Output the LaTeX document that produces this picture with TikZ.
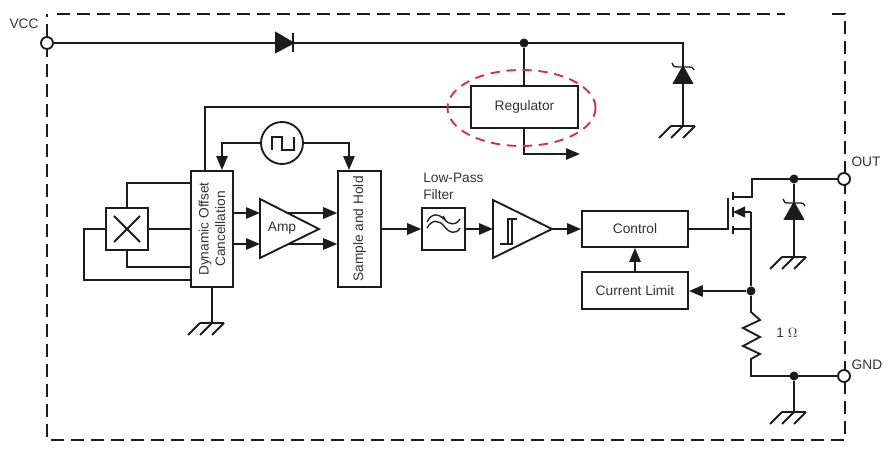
\documentclass[tikz,border=0pt]{standalone}
\usepackage{fontspec}
\setmainfont{Liberation Sans}
\usetikzlibrary{calc, shapes.geometric, arrows.meta, positioning}
\definecolor{wireblack}{HTML}{1C1C1C}
\definecolor{labelgray}{HTML}{333333}
\definecolor{markred}{HTML}{DC2B3C}
\tikzset{
    wire/.style={line width=1.4pt, draw=wireblack, line join=miter},
    sig/.style={wire, -{Triangle[length=10.5pt, width=8.5pt]}},
    blockbox/.style={wire, rectangle, fill=white, inner sep=0pt, text=labelgray},
    txt/.style={text=labelgray, inner sep=0pt},
    junction/.style={circle, fill=wireblack, inner sep=0pt, minimum size=6.8pt},
    terminal/.style={wire, circle, fill=white, inner sep=0pt, minimum size=9pt},
    border/.style={line width=1.4pt, draw=wireblack, dash pattern=on 9.75pt off 5.25pt}
}

\begin{document}
\begin{tikzpicture}[x=0.75pt, y=-0.75pt, every node/.append style={font=\fontsize{10.3}{12.5}\selectfont}]
    \useasboundingbox (0,0) rectangle (890,449);

    % Package outline
    \draw[border] (57,14) -- (785,14);
    \draw[border] (832,14) -- (845,14) -- (845,440) -- (47,440) -- (47,14);

    % Terminals
    \node[terminal] (vcc) at (47,43) {};
    \node[terminal] (out) at (844,179) {};
    \node[terminal] (gnd) at (844,376) {};
    \node[txt] at (24,24) {VCC};
    \node[txt] at (866,162) {OUT};
    \node[txt] at (867,365) {GND};

    % Blocks
    \node[blockbox, minimum width=80pt, minimum height=32pt] (regulator) at (524.5,107) {Regulator};
    \node[blockbox, minimum width=32pt, minimum height=87pt] (doc) at (212,229) {};
    \node[txt, rotate=90, align=center] at (doc) {Dynamic Offset\\Cancellation};
    \node[blockbox, minimum width=32pt, minimum height=87pt] (sample) at (359.5,229) {};
    \node[txt, rotate=90] at (sample) {Sample and Hold};
    \node[blockbox, minimum width=32pt, minimum height=32pt] (hall) at (127,229) {};
    \node[blockbox, minimum width=32pt, minimum height=32pt] (filter) at (443.5,229) {};
    \node[blockbox, minimum width=79.5pt, minimum height=27pt] (control) at (635,229) {Control};
    \node[blockbox, minimum width=79.5pt, minimum height=27.5pt] (limit) at (635,290.5) {Current Limit};
    \node[wire, circle, fill=white, inner sep=0pt, minimum size=31.5pt] (clock) at (282,143) {};
    \node[txt, align=left, anchor=north west] at (423,173) {Low-Pass\\Filter};
    \node[txt] at (787,333) {1 $\Omega$};

    % Amplifiers
    \draw[wire, fill=white] (260,199) -- (319,229) -- (260,258) -- cycle;
    \node[txt] at (282,228) {Amp};
    \draw[wire, fill=white] (493,200) -- (552,229) -- (493,258) -- cycle;
    \coordinate (amptip) at (319,229);
    \coordinate (schmitttip) at (552,229);

    % Symbols inside blocks
    \draw[wire] ($(hall)+(-13,-13)$) -- ($(hall)+(13,13)$);
    \draw[wire] ($(hall)+(-13,13)$) -- ($(hall)+(13,-13)$);
    \draw[wire, line width=1pt] (272,150) -- (272,137) -- (282,137) -- (282,150) -- (294,150) -- (294,137);
    \draw[wire, line width=1pt] (427,222) .. controls (432,212) and (439,214) .. (444,219) .. controls (449,225) and (456,226) .. (460,219);
    \draw[wire, line width=1pt] (427,228) .. controls (432,219) and (439,220) .. (444,226) .. controls (449,233) and (456,235) .. (460,228);
    \draw[wire, line width=1pt] (443,216) -- (446,221);
    \draw[wire, line width=1pt] (500,244) -- (512,244) -- (512,219) -- (517,219);
    \draw[wire, line width=1pt] (508,244) -- (508,219) -- (512,219);

    % Ground symbols
    \foreach \name/\x/\y in {gdoc/212/323, gvcc/683/126, gout/794/257, gref/794/412} {
        \coordinate (\name) at (\x,\y);
        \draw[wire] (\x-12,\y) -- (\x+12,\y);
        \foreach \d in {-12,0,12} {
            \draw[wire] (\x+\d,\y) -- (\x+\d-12,\y+12);
        }
    }

    % Supply rail
    \node[junction] (railnode) at (524,43) {};
    \coordinate (railend) at (683,43);
    \draw[wire] (vcc) -- (railend) -- (gvcc);
    \draw[wire] (railnode) -- (regulator.north -| railnode);
    \draw[wire, fill=wireblack] (276,33) -- (293,43) -- (276,52) -- cycle;
    \draw[wire] (293,33) -- (293,52);

    % Zener clamps
    \foreach \x/\y in {683/67, 794/203} {
        \draw[wire, fill=wireblack] (\x,\y) -- (\x+9,\y+16) -- (\x-9,\y+16) -- cycle;
        \draw[wire, line width=1pt] (\x-11,\y-4) .. controls (\x-9,\y) .. (\x-6,\y) -- (\x+6,\y) .. controls (\x+9,\y) .. (\x+11,\y+3);
    }

    % Regulator connections
    \draw[wire] (regulator.west) -- (205,107) -- (doc.north -| 205,0);
    \coordinate (regout) at (580,154);
    \draw[sig] (regulator.south -| 524,0) -- (524,154) -- (regout);
    \node[ellipse, draw=markred, line width=1.4pt, dash pattern=on 7pt off 5pt, inner sep=0pt, minimum width=111pt, minimum height=57pt] (mark) at (521.5,108) {};

    % Clock
    \draw[sig] (clock.west) -- (222,143) -- (doc.north -| 222,0);
    \draw[sig] (clock.east) -- (349,143) -- (sample.north -| 349,0);

    % Hall plate to chopper
    \draw[wire] (hall.north) -- (127,183) -- (doc.west |- 0,183);
    \draw[wire] (hall.east) -- (doc.west);
    \draw[wire] (hall.south) -- (127,267) -- (doc.west |- 0,267);
    \draw[wire] (hall.west) -- (84,229) -- (84,280) -- (doc.west |- 0,280);
    \draw[wire] (doc.south -| gdoc) -- (gdoc);

    % Signal path
    \draw[sig] (doc.east |- 0,213) -- (260,213);
    \draw[sig] (doc.east |- 0,244) -- (260,244);
    \draw[sig] (288,213) -- (sample.west |- 0,213);
    \draw[sig] (288,244) -- (sample.west |- 0,244);
    \draw[sig] (sample.east) -- (filter.west);
    \draw[sig] (filter.east) -- (493,229);
    \draw[sig] (schmitttip) -- (control.west);
    \draw[sig] (limit.north) -- (control.south);

    % Output transistor
    \coordinate (gate) at (728,229);
    \draw[wire] (control.east) -- (gate) -- (728,198);
    \draw[wire] (733,192) -- (733,200);
    \draw[wire] (733,207) -- (733,217);
    \draw[wire] (733,226) -- (733,234);
    \node[junction] (outnode) at (794,179) {};
    \draw[wire] (733,197) -- (752,197) -- (752,179) -- (out);
    \draw[wire] (733,229) -- (751,229);
    \draw[wire, -{Triangle[length=9pt, width=8pt]}] (751,212) -- (733,212);

    % Sense resistor
    \node[junction] (sensenode) at (751,291) {};
    \node[junction] (gndnode) at (794,376) {};
    \draw[wire] (751,212) -- (sensenode);
    \draw[wire] (sensenode) -- (751,312) -- (760,320) -- (743,328) -- (760,337) -- (743,346) -- (760,354) -- (751,359) -- (751,376) -- (gnd);
    \draw[sig] (sensenode) -- (limit.east |- sensenode);

    % Clamps to ground
    \draw[wire] (outnode) -- (gout);
    \draw[wire] (gndnode) -- (gref);
\end{tikzpicture}
\end{document}
